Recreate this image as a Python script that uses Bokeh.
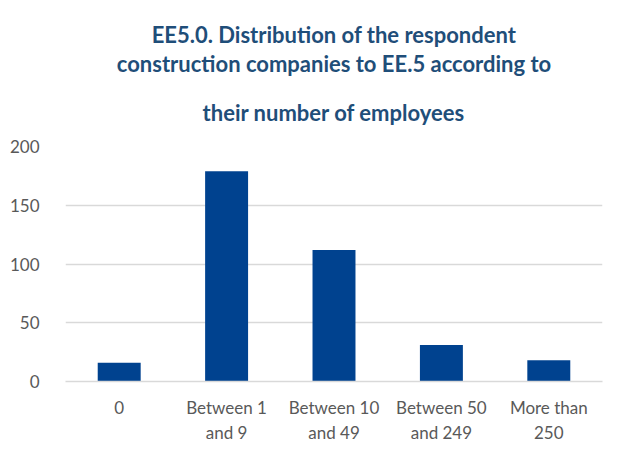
from bokeh.plotting import figure
from bokeh.models import FactorRange, Range1d, Title, FixedTicker, ColumnDataSource
from bokeh.embed import file_html
from bokeh.resources import INLINE

categories = ["0", "Between 1\nand 9", "Between 10\nand 49", "Between 50\nand 249", "More than\n250"]
counts = [16, 179, 112, 31, 18]
y_ticks = [0, 50, 100, 150, 200]
title_lines = [
    "EE5.0. Distribution of the respondent",
    "construction companies to EE.5 according to",
    "their number of employees",
]

BAR = "#00428F"
GRID = "#D9D9D9"
LABEL = "#595959"
TITLE = "#1F4E79"
FONT = "Lato"

source = ColumnDataSource(data=dict(cat=categories, count=counts))

p = figure(
    x_range=FactorRange(*categories, range_padding=0),
    y_range=Range1d(0, 200),
    width=614, height=453,
    output_backend="svg", toolbar_location=None,
    min_border_left=65, min_border_right=12, min_border_top=146, min_border_bottom=72,
)
p.vbar(x="cat", top="count", width=0.4, source=source, color=BAR, line_color=None)

p.outline_line_color = None
p.xgrid.grid_line_color = None
p.ygrid.grid_line_color = GRID
p.ygrid.grid_line_width = 1.5
p.yaxis.ticker = FixedTicker(ticks=y_ticks)
p.yaxis.axis_line_color = None
p.yaxis.major_tick_line_color = None
p.yaxis.minor_tick_line_color = None
p.yaxis.major_label_standoff = 20
p.yaxis.major_label_text_font = FONT
p.yaxis.major_label_text_font_size = "17px"
p.yaxis.major_label_text_color = LABEL

p.xaxis.axis_line_color = GRID
p.xaxis.axis_line_width = 1.5
p.xaxis.major_tick_line_color = None
p.xaxis.minor_tick_line_color = None
p.xaxis.major_label_standoff = 9
p.xaxis.major_label_text_font = FONT
p.xaxis.major_label_text_font_size = "17px"
p.xaxis.major_label_text_color = LABEL

standoffs = [0, 0, 41]
for line, so in reversed(list(zip(title_lines, standoffs))):
    p.add_layout(Title(text=line, align="center", text_font=FONT, text_font_style="bold",
                       text_font_size="22px", text_color=TITLE, standoff=so), "above")

open("out.html", "w").write(file_html(p, INLINE))
